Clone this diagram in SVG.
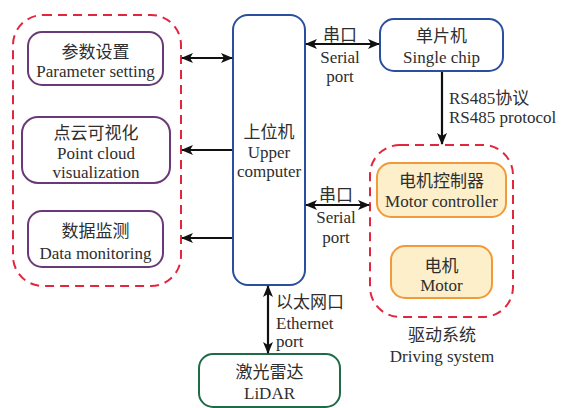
<svg xmlns="http://www.w3.org/2000/svg" width="566" height="408" viewBox="0 0 566 408">
<defs>
<marker id="ah" viewBox="0 0 12 10" refX="11" refY="5" markerWidth="12" markerHeight="10" markerUnits="userSpaceOnUse" orient="auto-start-reverse">
<path d="M0,0 L12,5 L0,10 L3,5 Z" fill="#111"/>
</marker>
<style>
text{font-family:"Liberation Serif","Noto Sans CJK SC",serif;font-size:17px;fill:#2e2e2e;text-anchor:middle}
.grp{fill:none;stroke:#e2263e;stroke-width:2;stroke-dasharray:9 6}
.pur{fill:#fff;stroke:#6a3a78;stroke-width:2}
.blu{fill:#fff;stroke:#2b4f9e;stroke-width:2}
.org{fill:#fdefc9;stroke:#f29a3a;stroke-width:2}
.grn{fill:#fff;stroke:#1f6a47;stroke-width:2}
.ln{stroke:#111;stroke-width:2.2;fill:none}
.l{text-anchor:start}
</style>
</defs>
<rect width="566" height="408" fill="#fff"/>
<g id="ui-group">
<rect class="grp" x="13" y="15" width="168" height="271" rx="30"/>
</g>
<g id="drive-group">
<rect class="grp" x="370" y="145" width="143" height="172" rx="30"/>
<text x="442" y="341">驱动系统</text>
<text x="442" y="362">Driving system</text>
</g>
<g id="param">
<rect class="pur" x="28" y="32" width="135" height="53" rx="14"/>
<text x="95.5" y="58">参数设置</text>
<text x="95.5" y="77">Parameter setting</text>
</g>
<g id="pointcloud">
<rect class="pur" x="22" y="117" width="148" height="66" rx="16"/>
<text x="96" y="139">点云可视化</text>
<text x="96" y="159">Point cloud</text>
<text x="96" y="178">visualization</text>
</g>
<g id="monitor">
<rect class="pur" x="28" y="211" width="135" height="56" rx="14"/>
<text x="95.5" y="237">数据监测</text>
<text x="95.5" y="259">Data monitoring</text>
</g>
<g id="upper">
<rect class="blu" x="233" y="15" width="72" height="270" rx="15"/>
<text x="269" y="138">上位机</text>
<text x="269" y="158">Upper</text>
<text x="269" y="177">computer</text>
</g>
<g id="mcu">
<rect class="blu" x="380" y="19" width="123" height="52" rx="14"/>
<text x="441.5" y="42">单片机</text>
<text x="441.5" y="63">Single chip</text>
</g>
<g id="controller">
<rect class="org" x="377" y="163" width="129" height="54" rx="14"/>
<text x="441.5" y="187">电机控制器</text>
<text x="441.5" y="207">Motor controller</text>
</g>
<g id="motor">
<rect class="org" x="391" y="246" width="101" height="52" rx="14"/>
<text x="441.5" y="272">电机</text>
<text x="441.5" y="291">Motor</text>
</g>
<g id="lidar">
<rect class="grn" x="199" y="354" width="141" height="53" rx="14"/>
<text x="269.5" y="378">激光雷达</text>
<text x="269.5" y="399">LiDAR</text>
</g>
<g id="connectors">
<line class="ln" x1="182" y1="58" x2="232" y2="58" marker-start="url(#ah)" marker-end="url(#ah)"/>
<line class="ln" x1="232" y1="150" x2="182" y2="150" marker-end="url(#ah)"/>
<line class="ln" x1="232" y1="238" x2="182" y2="238" marker-end="url(#ah)"/>
<line class="ln" x1="306" y1="44" x2="379" y2="44" marker-start="url(#ah)" marker-end="url(#ah)"/>
<line class="ln" x1="442" y1="72" x2="442" y2="144" marker-end="url(#ah)"/>
<line class="ln" x1="306" y1="205" x2="369" y2="205" marker-start="url(#ah)" marker-end="url(#ah)"/>
<line class="ln" x1="268" y1="286" x2="268" y2="353" marker-start="url(#ah)" marker-end="url(#ah)"/>
<text x="340" y="41">串口</text>
<text x="340" y="63">Serial</text>
<text x="340" y="82">port</text>
<text x="336" y="201">串口</text>
<text x="336" y="223">Serial</text>
<text x="336" y="243">port</text>
<text class="l" x="449" y="104">RS485协议</text>
<text class="l" x="449" y="123">RS485 protocol</text>
<text class="l" x="276" y="308">以太网口</text>
<text class="l" x="276" y="329">Ethernet</text>
<text class="l" x="276" y="347">port</text>
</g>
</svg>
